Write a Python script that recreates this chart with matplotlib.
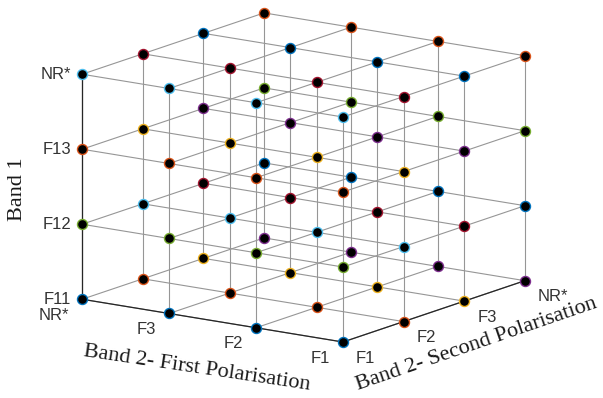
import numpy as np
import matplotlib
matplotlib.use("Agg")
import matplotlib.pyplot as plt

# tick categories of the three axes
band1_labels = ['F11', 'F12', 'F13', 'NR*']        # vertical axis, bottom -> top
first_pol_labels = ['NR*', 'F3', 'F2', 'F1']       # front-left edge, left -> right
second_pol_labels = ['F1', 'F2', 'F3', 'NR*']      # front-right edge, front -> back

# MATLAB default colour order, one colour per plotted series
matlab_colors = ['#0072BD', '#D95319', '#EDB120', '#7E2F8E',
                 '#77AC30', '#4DBEEE', '#A2142F']

xs = np.arange(1, len(first_pol_labels) + 1)
ys = np.arange(1, len(second_pol_labels) + 1)
zs = np.arange(1, len(band1_labels) + 1)

W, H = 603, 398
fig = plt.figure(figsize=(W / 100, H / 100), dpi=100)
ax = fig.add_axes([0.0852, -0.0794, 0.8143, 1.2337], projection='3d',
                  computed_zorder=False)
ax.set_proj_type('ortho')
ax.view_init(elev=13.6, azim=-55.1)
ax.set_box_aspect((1, 1, 0.728))
ax.set_xlim(xs[0], xs[-1])
ax.set_ylim(ys[0], ys[-1])
ax.set_zlim(zs[0], zs[-1])
ax.set_axis_off()

grid_c = '#969696'
axis_c = '#262626'

# lattice lines
for y in ys:
    for z in zs:
        ax.plot(xs, np.full(4, y), np.full(4, z), color=grid_c, lw=0.8, zorder=1)
for x in xs:
    for z in zs:
        ax.plot(np.full(4, x), ys, np.full(4, z), color=grid_c, lw=0.8, zorder=1)
for x in xs:
    for y in ys:
        ax.plot(np.full(4, x), np.full(4, y), zs, color=grid_c, lw=0.8, zorder=1)

# axis edges
ax.plot(xs, np.full(4, ys[0]), np.full(4, zs[0]), color=axis_c, lw=0.9, zorder=1.5)
ax.plot(np.full(4, xs[-1]), ys, np.full(4, zs[0]), color=axis_c, lw=0.9, zorder=1.5)
ax.plot(np.full(4, xs[0]), np.full(4, ys[0]), zs, color=axis_c, lw=0.9, zorder=1.5)

# one series per (second polarisation, band 1) pair
k = 0
for z in zs:
    for y in ys:
        ax.plot(xs, np.full(4, y), np.full(4, z), linestyle='none', marker='o',
                ms=7.2, mfc='black', mec=matlab_colors[k % 7], mew=1.0, zorder=2)
        k += 1

M = ax.get_proj()


def to2d(x, y, z):
    v = M @ np.array([x, y, z, 1.0])
    return v[0] / v[3], v[1] / v[3]


tick_font = dict(family='Liberation Sans', fontsize=12, color='#333333')
for z, lab in zip(zs, band1_labels):
    ax.annotate(lab, to2d(xs[0], ys[0], z), xytext=(-11, 0),
                textcoords='offset pixels', ha='right', va='center', **tick_font)
for x, lab in zip(xs, first_pol_labels):
    ax.annotate(lab, to2d(x, ys[0], zs[0]), xytext=(-13, -16),
                textcoords='offset pixels', ha='right', va='center', **tick_font)
for y, lab in zip(ys, second_pol_labels):
    ax.annotate(lab, to2d(xs[-1], y, zs[0]), xytext=(13, -16),
                textcoords='offset pixels', ha='left', va='center', **tick_font)

label_font = dict(family='Liberation Serif', fontsize=16, color='#1a1a1a',
                  ha='center', va='center', rotation_mode='anchor')
fig.text(17 / W, 1 - 189 / H, 'Band 1', rotation=90, **label_font)
fig.text(197 / W, 1 - 368 / H, 'Band 2- First Polarisation', rotation=-8.5, **label_font)
fig.text(476 / W, 1 - 344 / H, 'Band 2- Second Polarisation', rotation=19, **label_font)

fig.savefig('out.png', dpi=100, facecolor='white')
